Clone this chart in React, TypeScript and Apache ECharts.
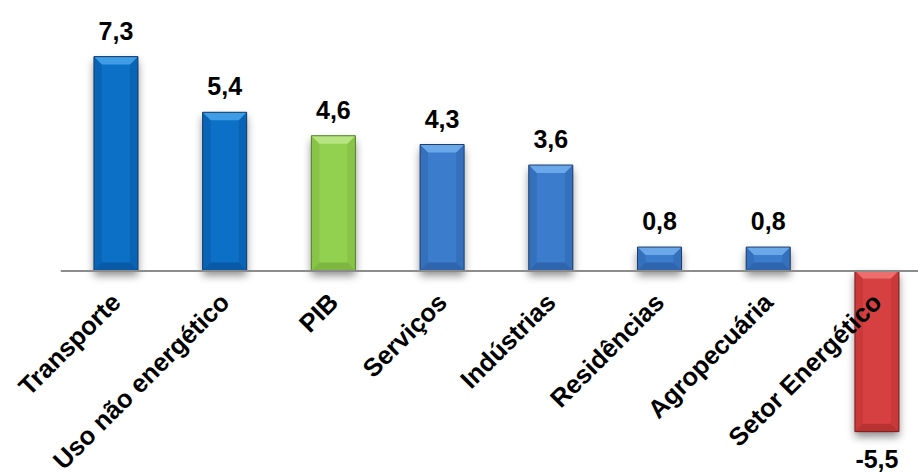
import React, { useEffect, useRef } from "react";
import * as echarts from "echarts";

const categories = [
  "Transporte",
  "Uso não energético",
  "PIB",
  "Serviços",
  "Indústrias",
  "Residências",
  "Agropecuária",
  "Setor Energético",
];
const values = [7.3, 5.4, 4.6, 4.3, 3.6, 0.8, 0.8, -5.5];
const colorKeys = ["blue1", "blue1", "green", "blue2", "blue2", "blue2", "blue2", "red"];

const palettes: Record<string, { base: string; light: string; side: string; bottom: string; stroke: string }> = {
  blue1: { base: "#0b6fc7", light: "#3f9de6", side: "#0a64b6", bottom: "#095aa6", stroke: "#143b66" },
  blue2: { base: "#3b7bcc", light: "#6ba8ea", side: "#3570bd", bottom: "#2f65ad", stroke: "#1e3e6b" },
  green: { base: "#92d050", light: "#b6e581", side: "#87c447", bottom: "#7db641", stroke: "#557f2c" },
  red: { base: "#d63f3f", light: "#ee6e6e", side: "#c93939", bottom: "#b83232", stroke: "#7a1d1d" },
};

const FONT = 'Arial, "Liberation Sans", sans-serif';

export default function App() {
  const ref = useRef<HTMLDivElement>(null);
  useEffect(() => {
    if (!ref.current) return;
    const chart = echarts.init(ref.current, null, { renderer: "svg" });
    chart.setOption({
      animation: false,
      backgroundColor: "#ffffff",
      grid: {
        left: 61.6,
        right: -13.3,
        top: 36.1,
        bottom: 202.5,
        containLabel: false,
        outerBoundsMode: "none",
      },
      xAxis: {
        type: "category",
        data: categories,
        axisTick: { show: false },
        axisLine: { show: true, onZero: false, lineStyle: { color: "#8c8c8c", width: 2 } },
        axisLabel: {
          rotate: 45,
          margin: 27,
          interval: 0,
          color: "#000",
          fontFamily: FONT,
          fontWeight: "bold",
          fontSize: 25.5,
        },
        z: 10,
      },
      yAxis: {
        type: "value",
        min: 0,
        max: 8,
        show: false,
        splitLine: { show: false },
      },
      series: [
        {
          type: "custom",
          clip: false,
          encode: { x: 0, y: 1 },
          data: values.map((v, i) => [i, v]),
          z: 5,
          renderItem: (params: any, api: any) => {
            const i = params.dataIndex;
            const v = api.value(1);
            const p = api.coord([api.value(0), v]);
            const z0 = api.coord([api.value(0), 0]);
            const band = api.size([1, 0])[0];
            const w = band * 0.405;
            const cx = p[0];
            const x0 = cx - w / 2;
            const x1 = cx + w / 2;
            const top = Math.min(p[1], z0[1]);
            const bot = Math.max(p[1], z0[1]);
            const h = bot - top;
            const b = Math.min(8, h / 2);
            const pal = palettes[colorKeys[i]];
            const label = v.toFixed(1).replace(".", ",");
            const ty = v >= 0 ? top - 26 : bot + 27;
            return {
              type: "group",
              children: [
                {
                  type: "rect",
                  shape: { x: x0, y: top, width: w, height: h },
                  style: {
                    fill: pal.base,
                    shadowBlur: 8,
                    shadowOffsetY: 5,
                    shadowColor: "rgba(0,0,0,0.45)",
                  },
                },
                {
                  type: "polygon",
                  shape: { points: [[x0, top], [x0 + b, top + b], [x0 + b, bot - b], [x0, bot]] },
                  style: { fill: pal.side },
                },
                {
                  type: "polygon",
                  shape: { points: [[x1, top], [x1 - b, top + b], [x1 - b, bot - b], [x1, bot]] },
                  style: { fill: pal.side },
                },
                {
                  type: "polygon",
                  shape: { points: [[x0, bot], [x1, bot], [x1 - b, bot - b], [x0 + b, bot - b]] },
                  style: { fill: pal.bottom },
                },
                {
                  type: "polygon",
                  shape: { points: [[x0, top], [x1, top], [x1 - b, top + b], [x0 + b, top + b]] },
                  style: { fill: pal.light },
                },
                {
                  type: "rect",
                  shape: { x: x0, y: top, width: w, height: h },
                  style: { fill: "none", stroke: pal.stroke, lineWidth: 1 },
                },
                {
                  type: "text",
                  style: {
                    text: label,
                    x: cx,
                    y: ty,
                    align: "center",
                    verticalAlign: "middle",
                    fill: "#000",
                    fontFamily: FONT,
                    fontWeight: "bold",
                    fontSize: 25,
                  },
                },
              ],
            };
          },
        },
      ],
    });
    return () => chart.dispose();
  }, []);
  return (
    <div
      ref={ref}
      style={{ position: "fixed", left: 0, top: 0, width: 918, height: 473, overflow: "hidden" }}
    />
  );
}
